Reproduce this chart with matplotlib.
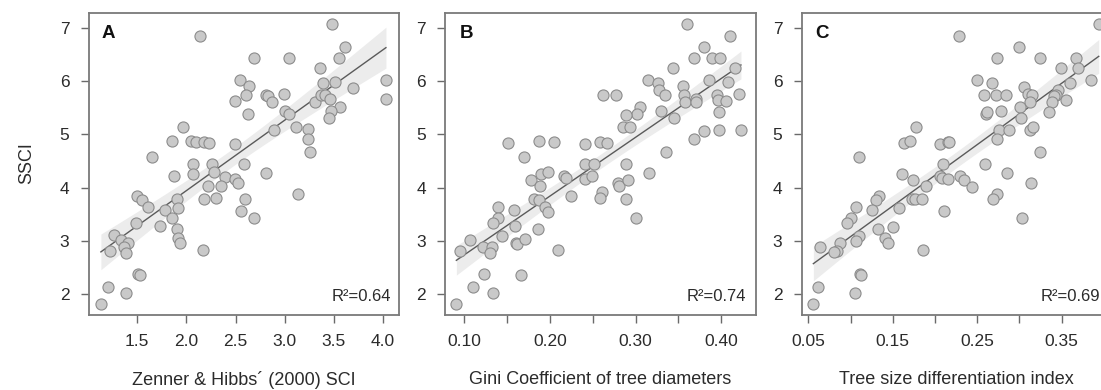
import numpy as np
import matplotlib
matplotlib.use("Agg")
import matplotlib.pyplot as plt

plt.rcParams["font.family"] = ["Liberation Sans", "DejaVu Sans"]

# --- data -------------------------------------------------------------
zh_sci = [3.48, 2.14, 3.61, 2.69, 3.04, 3.55, 3.36, 2.55, 2.64, 3.39,
          3.51, 3.69, 2.61, 2.49, 2.81, 2.83, 2.87, 2.99, 3.31, 3.37,
          3.41, 3.46, 3.56, 3.47, 3.45, 3.00, 3.04, 2.63, 2.89, 3.12,
          3.24, 3.24, 3.26, 1.97, 1.85, 2.05, 2.10, 2.18, 2.23, 2.49,
          1.65, 2.07, 2.07, 1.87, 2.26, 2.28, 2.39, 2.49, 2.53, 2.59,
          2.81, 2.22, 2.35, 1.50, 1.55, 1.61, 1.90, 1.91, 1.78, 1.85,
          2.18, 2.30, 2.60, 2.56, 2.69, 3.14, 1.49, 1.73, 1.90, 1.91,
          1.93, 1.26, 1.33, 1.41, 1.37, 1.39, 1.22, 2.17, 1.51, 1.53,
          1.20, 1.39, 1.13, 4.03, 4.03]
ssci_a = [7.07, 6.84, 6.64, 6.43, 6.44, 6.43, 6.24, 6.02, 5.91, 5.96,
          5.99, 5.86, 5.74, 5.63, 5.74, 5.71, 5.61, 5.76, 5.60, 5.74,
          5.73, 5.66, 5.51, 5.43, 5.30, 5.43, 5.39, 5.38, 5.08, 5.13,
          5.10, 4.91, 4.67, 5.13, 4.88, 4.87, 4.85, 4.86, 4.83, 4.81,
          4.58, 4.44, 4.26, 4.22, 4.44, 4.29, 4.20, 4.16, 4.08, 4.44,
          4.28, 4.04, 4.03, 3.84, 3.76, 3.63, 3.78, 3.61, 3.58, 3.44,
          3.78, 3.81, 3.79, 3.57, 3.43, 3.89, 3.34, 3.28, 3.22, 3.06,
          2.96, 3.11, 3.01, 2.96, 2.89, 2.78, 2.81, 2.83, 2.38, 2.36,
          2.14, 2.03, 1.82, 6.02, 5.66]

gini = [0.360, 0.410, 0.380, 0.368, 0.389, 0.399, 0.344, 0.416, 0.315, 0.326,
        0.327, 0.386, 0.408, 0.355, 0.334, 0.356, 0.358, 0.371, 0.370, 0.395,
        0.396, 0.406, 0.421, 0.262, 0.277, 0.305, 0.302, 0.289, 0.330, 0.345,
        0.397, 0.285, 0.293, 0.380, 0.397, 0.423, 0.368, 0.336, 0.151, 0.187,
        0.205, 0.241, 0.258, 0.267, 0.170, 0.241, 0.251, 0.289, 0.316, 0.178,
        0.190, 0.198, 0.188, 0.216, 0.219, 0.241, 0.249, 0.279, 0.281, 0.291,
        0.261, 0.259, 0.225, 0.289, 0.301, 0.181, 0.187, 0.194, 0.198, 0.139,
        0.139, 0.134, 0.158, 0.159, 0.144, 0.161, 0.162, 0.171, 0.186, 0.209,
        0.107, 0.122, 0.133, 0.130, 0.095, 0.123, 0.166, 0.110, 0.134, 0.091]
ssci_b = [7.07, 6.84, 6.64, 6.44, 6.43, 6.43, 6.24, 6.24, 6.01, 5.96,
          5.84, 6.02, 5.99, 5.91, 5.73, 5.74, 5.60, 5.66, 5.61, 5.73,
          5.64, 5.63, 5.76, 5.74, 5.73, 5.51, 5.39, 5.36, 5.43, 5.30,
          5.41, 5.13, 5.13, 5.07, 5.09, 5.08, 4.91, 4.67, 4.83, 4.88,
          4.86, 4.81, 4.86, 4.84, 4.58, 4.44, 4.44, 4.44, 4.28, 4.14,
          4.25, 4.29, 4.04, 4.21, 4.19, 4.17, 4.21, 4.09, 4.03, 4.14,
          3.91, 3.80, 3.84, 3.79, 3.43, 3.78, 3.77, 3.63, 3.55, 3.63,
          3.44, 3.34, 3.58, 3.28, 3.09, 2.97, 2.94, 3.04, 3.22, 2.83,
          3.01, 2.89, 2.88, 2.78, 2.82, 2.38, 2.36, 2.14, 2.03, 1.82]

tdi = [0.394, 0.229, 0.300, 0.273, 0.324, 0.367, 0.370, 0.349, 0.250, 0.267,
       0.385, 0.360, 0.305, 0.258, 0.272, 0.284, 0.310, 0.315, 0.313, 0.346,
       0.343, 0.341, 0.339, 0.355, 0.301, 0.260, 0.262, 0.278, 0.302, 0.335,
       0.276, 0.288, 0.312, 0.316, 0.273, 0.324, 0.178, 0.163, 0.170, 0.206,
       0.215, 0.217, 0.110, 0.210, 0.161, 0.174, 0.206, 0.208, 0.215, 0.230,
       0.235, 0.244, 0.259, 0.285, 0.190, 0.273, 0.269, 0.314, 0.134, 0.130,
       0.107, 0.125, 0.101, 0.096, 0.158, 0.173, 0.176, 0.185, 0.211, 0.132,
       0.150, 0.141, 0.144, 0.110, 0.107, 0.088, 0.084, 0.081, 0.064, 0.186,
       0.303, 0.111, 0.112, 0.062, 0.105, 0.056]
ssci_c = [7.07, 6.84, 6.64, 6.43, 6.44, 6.44, 6.24, 6.24, 6.01, 5.96,
          6.02, 5.97, 5.89, 5.74, 5.74, 5.73, 5.76, 5.73, 5.61, 5.84,
          5.74, 5.71, 5.60, 5.64, 5.51, 5.38, 5.41, 5.43, 5.30, 5.41,
          5.08, 5.08, 5.09, 5.13, 4.91, 4.67, 5.13, 4.83, 4.88, 4.81,
          4.86, 4.85, 4.58, 4.44, 4.26, 4.14, 4.21, 4.19, 4.16, 4.21,
          4.14, 4.02, 4.44, 4.28, 4.03, 3.89, 3.79, 4.08, 3.84, 3.77,
          3.63, 3.58, 3.44, 3.34, 3.61, 3.78, 3.79, 3.78, 3.56, 3.22,
          3.27, 3.05, 2.97, 3.09, 3.00, 2.96, 2.82, 2.79, 2.88, 2.83,
          3.43, 2.39, 2.36, 2.14, 2.02, 1.82]

panel_letters = ["A", "B", "C"]
r2_labels = ["R\u00b2=0.64", "R\u00b2=0.74", "R\u00b2=0.69"]
x_labels = ["Zenner & Hibbs\u00b4 (2000) SCI",
            "Gini Coefficient of tree diameters",
            "Tree size differentiation index"]
y_label = "SSCI"
y_ticks = [2, 3, 4, 5, 6, 7]

x_ticks_a = [1.5, 2.0, 2.5, 3.0, 3.5, 4.0]
x_ticklabels_a = ["1.5", "2.0", "2.5", "3.0", "3.5", "4.0"]
x_ticks_b = [0.10, 0.15, 0.20, 0.25, 0.30, 0.35, 0.40]
x_ticklabels_b = ["0.10", "", "0.20", "", "0.30", "", "0.40"]
x_ticks_c = [0.05, 0.10, 0.15, 0.20, 0.25, 0.30, 0.35, 0.40]
x_ticklabels_c = ["0.05", "", "0.15", "", "0.25", "", "0.35", ""]

# --- layout -------------------------------------------------------------
W, H = 1101, 390
fig = plt.figure(figsize=(W / 100, H / 100), dpi=100)
fig.patch.set_facecolor("white")

top_px, bottom_px = 13.3, 315.0
lefts_px = [88.7, 445.3, 801.7]
width_px = 310.3
xlims = [(1.006, 4.163), (0.0781, 0.4401), (0.0422, 0.4097)]
ylim = (1.612, 7.27)
letter_x = [0.040, 0.047, 0.043]
r2_x = [0.975, 0.968, 0.963]

panels = [
    (zh_sci, ssci_a, x_ticks_a, x_ticklabels_a),
    (gini, ssci_b, x_ticks_b, x_ticklabels_b),
    (tdi, ssci_c, x_ticks_c, x_ticklabels_c),
]

spine_col = "#7a7a7a"
text_col = "#2b2b2b"
t_crit = 1.99

for i, (xv, yv, xt, xtl) in enumerate(panels):
    ax = fig.add_axes([lefts_px[i] / W, (H - bottom_px) / H,
                       width_px / W, (bottom_px - top_px) / H])
    x = np.asarray(xv, dtype=float)
    y = np.asarray(yv, dtype=float)

    # least-squares line with 95% confidence band of the mean
    slope, intercept = np.polyfit(x, y, 1)
    n = len(x)
    resid = y - (intercept + slope * x)
    s = np.sqrt(np.sum(resid ** 2) / (n - 2))
    sxx = np.sum((x - x.mean()) ** 2)
    xg = np.linspace(x.min(), x.max(), 200)
    yg = intercept + slope * xg
    se = s * np.sqrt(1.0 / n + (xg - x.mean()) ** 2 / sxx)
    ax.fill_between(xg, yg - t_crit * se, yg + t_crit * se,
                    color="#ececec", lw=0, zorder=1)
    ax.plot(xg, yg, color="#5a5a5a", lw=1.0, zorder=2)

    ax.scatter(x, y, s=64, facecolor="#c9c9c9", edgecolor="#8c8c8c",
               linewidths=0.8, zorder=3)

    ax.set_xlim(*xlims[i])
    ax.set_ylim(*ylim)
    ax.set_xticks(xt)
    ax.set_xticklabels(xtl)
    ax.set_yticks(y_ticks)
    ax.set_yticklabels([str(v) for v in y_ticks])

    for sp in ax.spines.values():
        sp.set_color(spine_col)
        sp.set_linewidth(1.3)
    ax.tick_params(axis="both", direction="out", length=6, width=1.0,
                   color="#6a6a6a", labelcolor=text_col, labelsize=12.5,
                   pad=8)

    ax.set_xlabel(x_labels[i], fontsize=13, color=text_col)
    ax.xaxis.set_label_coords(0.5, -0.215)
    ax.xaxis.label.set_va("center")

    ax.text(letter_x[i], 0.934, panel_letters[i], transform=ax.transAxes,
            fontsize=13.5, fontweight="bold", color="#111111",
            ha="left", va="center")
    ax.text(r2_x[i], 0.061, r2_labels[i], transform=ax.transAxes,
            fontsize=12, color=text_col, ha="right", va="center")

    if i == 0:
        ax.set_ylabel(y_label, fontsize=13, color=text_col)
        ax.yaxis.set_label_coords(-0.2, 0.504)
        ax.yaxis.label.set_va("center")

fig.savefig("out.png", dpi=100, facecolor="white")
